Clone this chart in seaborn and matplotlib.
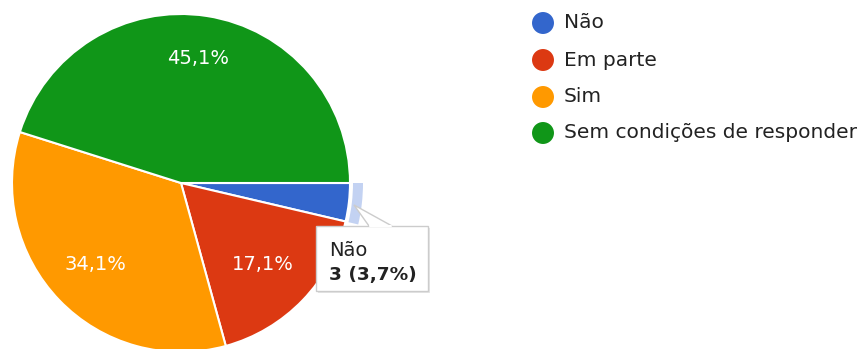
import matplotlib
matplotlib.use("Agg")
import matplotlib.pyplot as plt
from matplotlib.patches import Wedge, Rectangle, Polygon
import seaborn as sns

categories = ["Não", "Em parte", "Sim", "Sem condições de responder"]
counts = [3, 14, 28, 37]
colors = ["#3366CC", "#DC3912", "#FF9900", "#109618"]

sns.set_theme(style="white")
plt.rcParams["font.family"] = ["DejaVu Sans"]

W, H = 864, 349
fig = plt.figure(figsize=(W / 100, H / 100), dpi=100)
ax = fig.add_axes([0, 0, 1, 1])


def Y(y):
    # top-down pixel row to axes y
    return H - y


cx, cy, R = 181, Y(183), 169
total = sum(counts)
FS = 14


def fmt_pct(p):
    return "" if p < 5 else f"{p:.1f}".replace(".", ",") + "%"


wedges, _, autotexts = ax.pie(
    counts, colors=colors, startangle=0, counterclock=False,
    center=(cx, cy), radius=R, autopct=fmt_pct, pctdistance=0.74,
    wedgeprops=dict(edgecolor="white", linewidth=1.5),
    textprops=dict(color="white", fontsize=FS),
)
ax.set_xlim(0, W)
ax.set_ylim(0, H)
ax.set_aspect("equal")
ax.axis("off")

# label placement inside the slices
label_pos = {1: (263, 264), 2: (95, 264), 3: (198, 58)}
for i, (px, py) in label_pos.items():
    autotexts[i].set_position((px, Y(py)))
    autotexts[i].set_ha("center")
    autotexts[i].set_va("center")

# hover ring around the first slice
ang0 = 360 * counts[0] / total
ax.add_patch(Wedge((cx, cy), R + 13, -ang0, 0, width=10,
                   facecolor="#c3d2f2", edgecolor="none"))

# tooltip for the first slice
bx0, by0, bx1, by1 = 316, 226, 428, 291
ax.add_patch(Rectangle((bx0 + 2, Y(by1) - 2), bx1 - bx0, by1 - by0,
                       facecolor="#e6e6e6", edgecolor="none", zorder=4))
ax.add_patch(Rectangle((bx0, Y(by1)), bx1 - bx0, by1 - by0,
                       facecolor="white", edgecolor="#cccccc", linewidth=1, zorder=5))
ax.add_patch(Polygon([(369, Y(by0)), (354, Y(205)), (392, Y(by0))], closed=False,
                     facecolor="white", edgecolor="#cccccc", linewidth=1, zorder=6))
ax.plot([370, 391], [Y(by0), Y(by0)], color="white", linewidth=1.5, zorder=7)
pct0 = f"{100 * counts[0] / total:.1f}".replace(".", ",")
ax.text(329, Y(251), categories[0], fontsize=FS, color="#222222",
        va="center", ha="left", zorder=8)
ax.text(329, Y(275), f"{counts[0]} ({pct0}%)", fontsize=13.3, color="#222222",
        fontweight="bold", va="center", ha="left", zorder=8)

# legend
leg_y = [23, 60, 97, 133]
for name, col, yy in zip(categories, colors, leg_y):
    ax.scatter([543], [Y(yy)], s=250, color=col, edgecolor="none", zorder=5)
    ax.text(564, Y(yy), name, fontsize=14.5, color="#222222",
            va="center", ha="left")

fig.savefig("out.png", dpi=100)
